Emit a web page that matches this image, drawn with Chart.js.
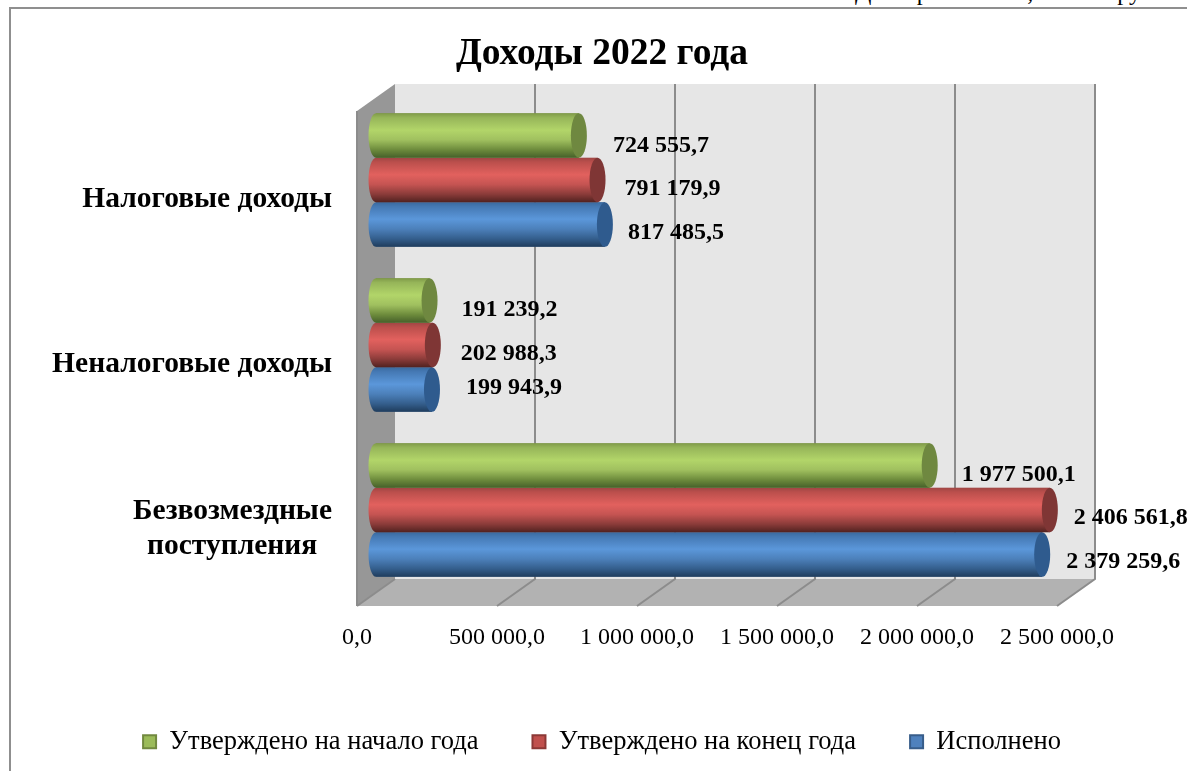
<!DOCTYPE html>
<html>
<head>
<meta charset="utf-8">
<style>
  html, body { margin: 0; padding: 0; background: #fff; overflow: hidden; width: 1187px; height: 771px; }
  #frame { position: absolute; left: 9px; top: 7px; width: 1186px; height: 800px; border-top: 2px solid #8f8f8f; border-left: 2px solid #8f8f8f; box-sizing: border-box; }
  canvas { position: absolute; left: 9px; top: 8px; }
  .unit { position: absolute; top: -20px; font: 24px/24px "Liberation Serif", serif; color: #000; white-space: nowrap; word-spacing: 8px; }
</style>
</head>
<body>
<div class="unit" style="left: 855px; letter-spacing: 3px;">Диаграмма 1,</div>
<div class="unit" style="left: 1060px;">тыс. руб</div>
<div id="frame"></div>
<canvas id="incomeChart" width="1186" height="757"></canvas>
<script src="https://cdn.jsdelivr.net/npm/chart.js@4/dist/chart.umd.min.js"></script>
<script>
const categories = ['Налоговые доходы', 'Неналоговые доходы', ['Безвозмездные', 'поступления\u00a0\u00a0']];
const planStart = [724555.7, 191239.2, 1977500.1];
const planEnd = [791179.9, 202988.3, 2406561.8];
const executed = [817485.5, 199943.9, 2379259.6];
const xTicks = [0, 500000, 1000000, 1500000, 2000000, 2500000];
const axisMax = 2925000; // room on the right for the box depth and labels

// label nudges, the original labels were moved by hand
const labelShift = [
  [[34, 10], [32, 9], [32, 9]],
  [[27, 9], [28, 9], [24, 8]],
  [[23, 8], [34, -2], [24, 7]]
];

const serif = '"Liberation Serif", "Times New Roman", serif';
const depthX = 19, depthY = 13.5;

function fmt(v) {
  const parts = v.toFixed(1).split('.');
  return parts[0].replace(/\B(?=(\d{3})+$)/g, ' ') + ',' + parts[1];
}

const looks = [
  { cap: '#6f8840', stops: ['#7f9a48', '#96b559', '#b2d569', '#a0c05f', '#6d8b3c', '#46602a'] },
  { cap: '#7f3635', stops: ['#a04644', '#bb4f4c', '#e2615e', '#c55452', '#8a3b39', '#512220'] },
  { cap: '#2f5b8e', stops: ['#3a6a9f', '#4579b4', '#5b97da', '#4c80ba', '#345e8c', '#1f3c5c'] }
];
const stopAt = [0, 0.1, 0.38, 0.6, 0.82, 1];

// walls, floor and grid of the fake 3D box
const boxPlugin = {
  id: 'box',
  beforeDatasetsDraw(chart) {
    const { ctx, chartArea: a, scales } = chart;
    const x0 = scales.x.getPixelForValue(0), x1 = scales.x.getPixelForValue(xTicks[xTicks.length - 1]);
    ctx.save();
    ctx.fillStyle = '#e6e6e6';
    ctx.fillRect(x0 + depthX, a.top - depthY, x1 - x0, a.bottom - a.top);
    ctx.fillStyle = '#979797';
    ctx.beginPath();
    ctx.moveTo(x0 - depthX, a.top + depthY);
    ctx.lineTo(x0 + depthX, a.top - depthY);
    ctx.lineTo(x0 + depthX, a.bottom - depthY);
    ctx.lineTo(x0 - depthX, a.bottom + depthY);
    ctx.fill();
    ctx.fillStyle = '#b2b2b2';
    ctx.beginPath();
    ctx.moveTo(x0 - depthX, a.bottom + depthY);
    ctx.lineTo(x1 - depthX, a.bottom + depthY);
    ctx.lineTo(x1 + depthX, a.bottom - depthY);
    ctx.lineTo(x0 + depthX, a.bottom - depthY);
    ctx.fill();
    ctx.strokeStyle = '#8c8c8c';
    ctx.lineWidth = 2;
    xTicks.forEach((t, i) => {
      const x = scales.x.getPixelForValue(t);
      ctx.beginPath();
      if (i > 0) {
        ctx.moveTo(x + depthX, a.top - depthY);
        ctx.lineTo(x + depthX, a.bottom - depthY);
      } else {
        ctx.moveTo(x + depthX, a.bottom - depthY);
      }
      ctx.lineTo(x - depthX, a.bottom + depthY);
      ctx.stroke();
    });
    ctx.beginPath();
    ctx.moveTo(x0 - depthX, a.top + depthY);
    ctx.lineTo(x0 - depthX, a.bottom + depthY);
    ctx.stroke();
    ctx.restore();
  }
};

// repaint each bar as a cylinder, then write its value
const cylinderPlugin = {
  id: 'cylinder',
  afterDatasetDraw(chart, args) {
    const { ctx } = chart;
    const look = looks[args.index];
    const values = chart.data.datasets[args.index].data;
    args.meta.data.forEach((bar, i) => {
      const top = bar.y - bar.height / 2, bottom = bar.y + bar.height / 2;
      const ry = bar.height / 2;
      const g = ctx.createLinearGradient(0, top, 0, bottom);
      stopAt.forEach((s, k) => g.addColorStop(s, look.stops[k]));
      ctx.save();
      ctx.fillStyle = g;
      ctx.beginPath();
      ctx.moveTo(bar.x, top);
      ctx.lineTo(bar.base, top);
      ctx.ellipse(bar.base, bar.y, 7.5, ry, 0, -Math.PI / 2, -Math.PI * 1.5, true);
      ctx.lineTo(bar.x, bottom);
      ctx.closePath();
      ctx.fill();
      ctx.fillStyle = look.cap;
      ctx.beginPath();
      ctx.ellipse(bar.x, bar.y, 8, ry, 0, 0, Math.PI * 2);
      ctx.fill();
      const shift = labelShift[args.index][i];
      ctx.fillStyle = '#000';
      ctx.font = 'bold 24px ' + serif;
      ctx.textAlign = 'left';
      ctx.textBaseline = 'middle';
      ctx.fillText(fmt(values[i]), bar.x + shift[0], bar.y + shift[1]);
      ctx.restore();
    });
  }
};

new Chart(document.getElementById('incomeChart'), {
  type: 'bar',
  data: {
    labels: categories,
    datasets: [
      { label: 'Утверждено на начало года', data: planStart, backgroundColor: '#9bbb59', borderColor: '#71893f', borderWidth: 2 },
      { label: 'Утверждено на конец года', data: planEnd, backgroundColor: '#c0504d', borderColor: '#8c3836', borderWidth: 2 },
      { label: 'Исполнено', data: executed, backgroundColor: '#4f81bd', borderColor: '#385d8a', borderWidth: 2 }
    ]
  },
  plugins: [boxPlugin, cylinderPlugin],
  options: {
    indexAxis: 'y',
    responsive: false,
    animation: false,
    categoryPercentage: 0.81,
    barPercentage: 1,
    scales: {
      x: {
        min: 0,
        max: axisMax,
        afterBuildTicks(scale) { scale.ticks = xTicks.map(v => ({ value: v })); },
        afterFit(scale) { scale.height = 82; },
        grid: { display: false },
        border: { display: false },
        ticks: {
          color: '#000',
          padding: 23,
          labelOffset: -19,
          maxRotation: 0,
          autoSkip: false,
          font: { family: serif, size: 24 },
          callback: v => fmt(v)
        }
      },
      y: {
        afterFit(scale) { scale.width = 367; },
        grid: { display: false },
        border: { display: false },
        ticks: {
          color: '#000',
          padding: 36,
          labelOffset: 19,
          font: { family: serif, size: 29.5, weight: 'bold' }
        }
      }
    },
    plugins: {
      title: {
        display: true,
        text: 'Доходы 2022 года',
        color: '#000',
        font: { family: serif, size: 37.5, weight: 'bold' },
        padding: { top: 24, bottom: 20.5 }
      },
      legend: {
        position: 'bottom',
        labels: {
          color: '#000',
          boxWidth: 13,
          boxHeight: 13,
          padding: 54,
          font: { family: serif, size: 26.5 }
        }
      },
      tooltip: { enabled: false }
    }
  }
});
</script>
</body>
</html>
